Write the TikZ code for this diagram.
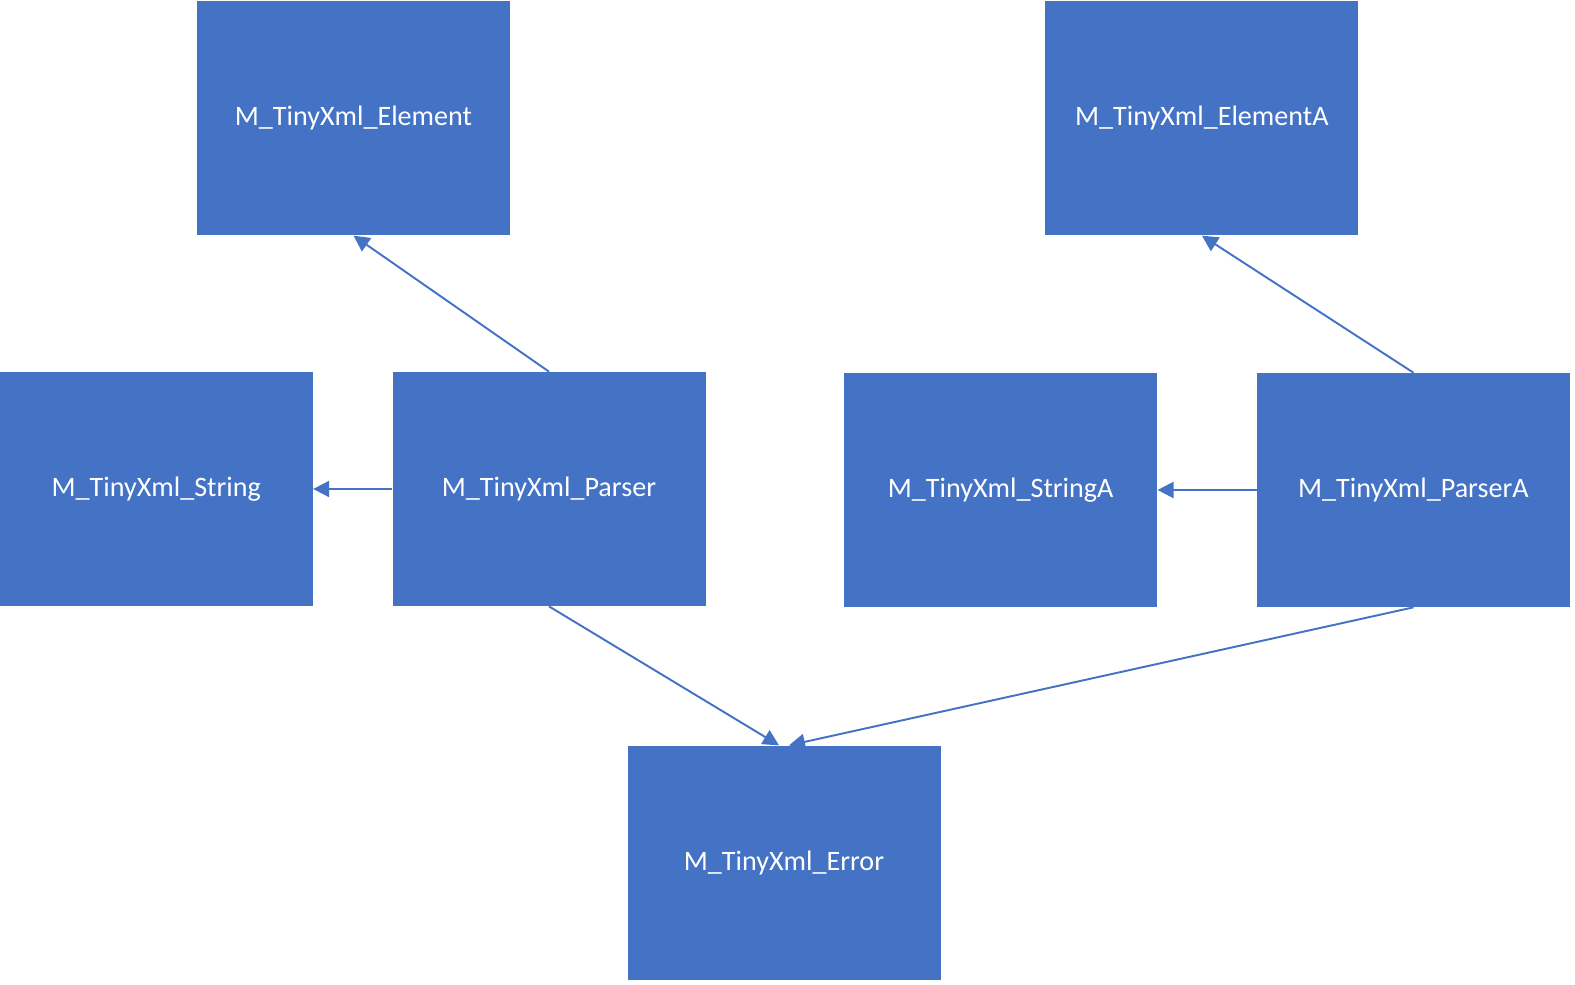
\documentclass[tikz,border=0pt]{standalone}
\usepackage{fontspec}
\setmainfont{Carlito}
\usepackage{tikz}
\usetikzlibrary{arrows.meta,positioning}
\definecolor{officeblue}{HTML}{4472C4}

\begin{document}
\begin{tikzpicture}[
  node distance=2.7cm,
  box/.style={fill=officeblue, text=white, minimum width=6.26cm, minimum height=4.68cm, align=center, font=\fontsize{16}{19}\selectfont, inner sep=0pt},
  arr/.style={-{Triangle[length=3.2mm,width=3.2mm]}, line width=1.1pt, draw=officeblue}
]
\useasboundingbox (0,0) rectangle (31.5,-19.7);
\node[box] (parser) at (10.98,-9.78) {M\_TinyXml\_Parser};
\node[box, left=1.58cm of parser] (str) {M\_TinyXml\_String};
\node[box, above=2.72cm of parser, xshift=-3.91cm] (elem) {M\_TinyXml\_Element};
\node[box, right=2.76cm of parser, yshift=-0.02cm] (strA) {M\_TinyXml\_StringA};
\node[box, right=1.98cm of strA] (parserA) {M\_TinyXml\_ParserA};
\node[box, above=2.74cm of parserA, xshift=-4.23cm] (elemA) {M\_TinyXml\_ElementA};
\node[box, below=2.78cm of parser, xshift=4.7cm] (err) {M\_TinyXml\_Error};

\draw[arr] (parser.north) -- (elem.south);
\draw[arr] (parser.west) -- (str.east);
\draw[arr] (parser.south) -- ([xshift=-1mm]err.north);
\draw[arr] (parserA.north) -- (elemA.south);
\draw[arr] (parserA.west) -- (strA.east);
\draw[arr] (parserA.south) -- ([xshift=1mm]err.north);
\end{tikzpicture}
\end{document}
